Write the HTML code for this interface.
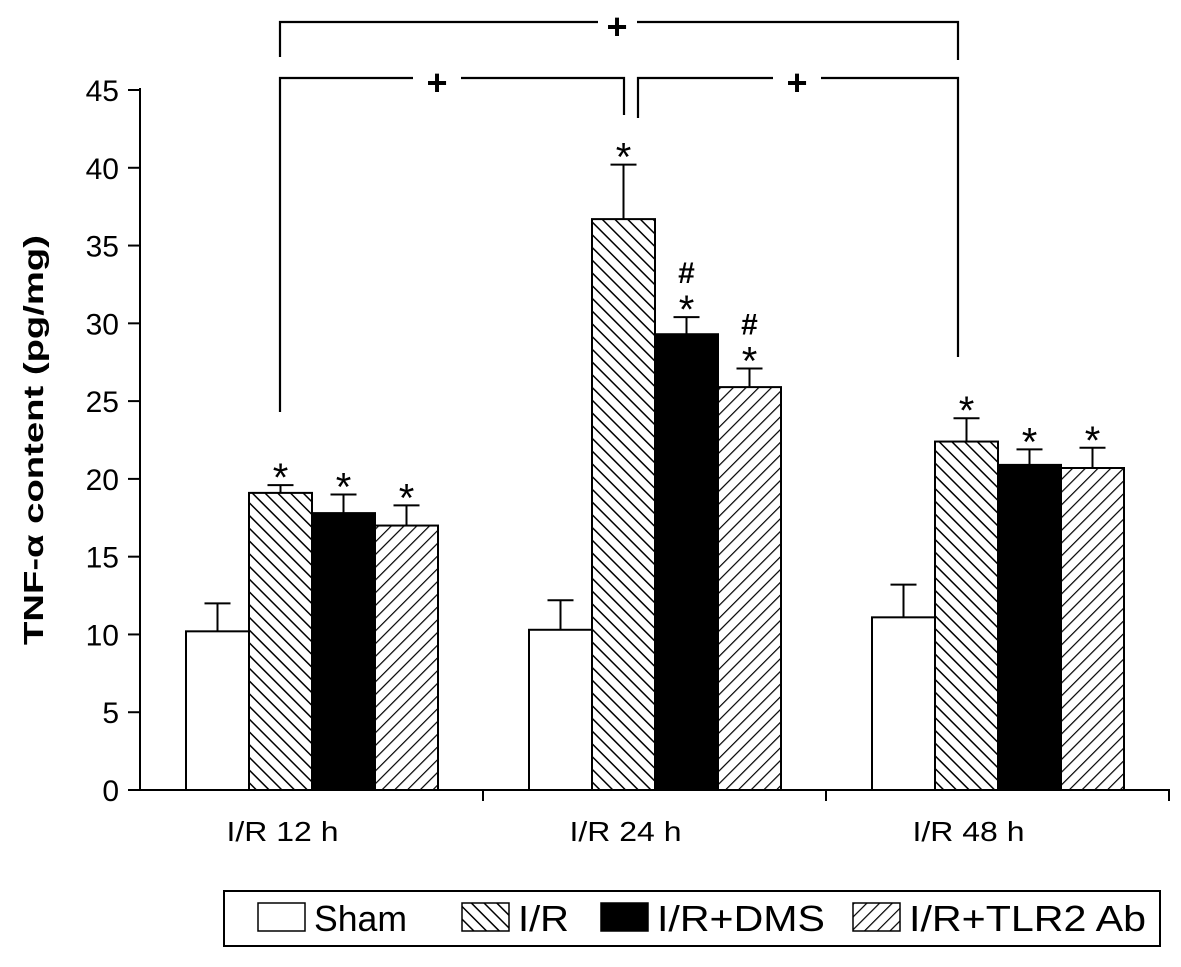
<!DOCTYPE html>
<html><head><meta charset="utf-8"><style>
body{margin:0;background:#fff;}
svg text{font-family:"Liberation Sans",sans-serif;}
</style></head><body>
<svg id="c" width="1181" height="962" xmlns="http://www.w3.org/2000/svg">
<defs>
<pattern id="pIR" patternUnits="userSpaceOnUse" width="9" height="9" patternTransform="rotate(-45)"><rect width="9" height="9" fill="#fff"/><line x1="0" y1="0" x2="0" y2="9" stroke="#000" stroke-width="3"/></pattern>
<pattern id="pTLR" patternUnits="userSpaceOnUse" width="9" height="9" patternTransform="rotate(45)"><rect width="9" height="9" fill="#fff"/><line x1="0" y1="0" x2="0" y2="9" stroke="#000" stroke-width="2.4"/></pattern>
</defs>
<g id="plot"></g>
</svg>
<script>
const groups=["I/R 12 h","I/R 24 h","I/R 48 h"];
const seriesNames=["Sham","I/R","I/R+DMS","I/R+TLR2 Ab"];
const sham=[10.2,10.3,11.1];
const ir=[19.1,36.7,22.4];
const dms=[17.8,29.3,20.9];
const tlr=[17.0,25.9,20.7];
const shamErr=[1.8,1.9,2.1];
const irErr=[0.5,3.5,1.5];
const dmsErr=[1.2,1.1,1.0];
const tlrErr=[1.3,1.2,1.3];
const yTicks=[0,5,10,15,20,25,30,35,40,45];
const marks=[["","*","*","*"],["","*","#*","#*"],["","*","*","*"]];
const NS="http://www.w3.org/2000/svg";
const g=document.getElementById('plot');
function y(v){return 790-v*(700/45);}
function el(t,a,txt){const e=document.createElementNS(NS,t);for(const k in a)e.setAttribute(k,a[k]);if(txt!==undefined)e.textContent=txt;g.appendChild(e);return e;}
const fills=["#fff","url(#pIR)","#000","url(#pTLR)"];
const vals=[sham,ir,dms,tlr], errs=[shamErr,irErr,dmsErr,tlrErr];
let a=el('line',{x1:140,y1:88,x2:140,y2:791,stroke:'#000','stroke-width':2});

a=el('line',{x1:139,y1:790,x2:1170,y2:790,stroke:'#000','stroke-width':2});

yTicks.forEach(t=>{
 const l=el('line',{x1:128,y1:y(t),x2:140,y2:y(t),stroke:'#000','stroke-width':2});
 
 const tx=el('text',{x:119,y:y(t)+11,'text-anchor':'end','font-size':30},String(t));
 
});
const groupW=343, x0=140;
[1,2,3].forEach(i=>{const l=el('line',{x1:x0+i*groupW,y1:790,x2:x0+i*groupW,y2:801,stroke:'#000','stroke-width':2});
 });
const bw=63;
groups.forEach((gname,gi)=>{
 const gx=x0+gi*groupW+46;
 const lt=el('text',{x:x0+gi*groupW+groupW/2-29,y:841,'text-anchor':'middle','font-size':28,textLength:112,lengthAdjust:'spacingAndGlyphs'},gname);
 
 for(let s=0;s<4;s++){
  const v=vals[s][gi],e=errs[s][gi],bx=gx+s*bw;
  const eb=el('line',{x1:bx+bw/2,y1:y(v),x2:bx+bw/2,y2:y(v+e),stroke:'#000','stroke-width':2});
  
  const cap=el('line',{x1:bx+bw/2-13,y1:y(v+e),x2:bx+bw/2+13,y2:y(v+e),stroke:'#000','stroke-width':2});
  
  const r=el('rect',{x:bx,y:y(v),width:bw,height:y(0)-y(v),fill:fills[s],stroke:'#000','stroke-width':2});
  
  const m=marks[gi][s];
  if(m){
   const base=y(v+e)-6;
   const st=el('text',{x:bx+bw/2,y:base+12,'text-anchor':'middle','font-size':40},'*');
   
   if(m[0]==='#'){const h=el('text',{x:bx+bw/2,y:base-28,'text-anchor':'middle','font-size':30,'font-weight':'bold'},'#');
    }
  }
 }
});
const br=[
 "M280,57 L280,22 L598,22 M637,22 L958,22 L958,60",
 "M280,412 L280,78 L413,78 M461,78 L624,78 L624,115",
 "M638,118 L638,78 L773,78 M821,78 L958,78 L958,357"];
br.forEach(d=>{const p=el('path',{d:d,fill:'none',stroke:'#000','stroke-width':2.2});
 });
[[617,39],[437,95],[797,95]].forEach(([px,py])=>{const t=el('text',{x:px,y:py,'text-anchor':'middle','font-size':36,'font-weight':'bold'},'+');
 });
const yt=el('text',{x:0,y:0,transform:'translate(43,440) rotate(-90)','text-anchor':'middle','font-size':28,'font-weight':'bold',textLength:410,lengthAdjust:'spacingAndGlyphs'},'TNF-α content  (pg/mg)');

const lb=el('rect',{x:224,y:891,width:936,height:55,fill:'#fff',stroke:'#000','stroke-width':2});

const lx=[258,462,601,853];
const lw=[93,51,168,237];
seriesNames.forEach((n,i)=>{
 const r=el('rect',{x:lx[i],y:903,width:47,height:28,fill:fills[i],stroke:'#000','stroke-width':1.5});
 
 const t=el('text',{x:lx[i]+56,y:931,'font-size':36,textLength:lw[i],lengthAdjust:'spacingAndGlyphs'},n);
 
});
</script>
</body></html>
